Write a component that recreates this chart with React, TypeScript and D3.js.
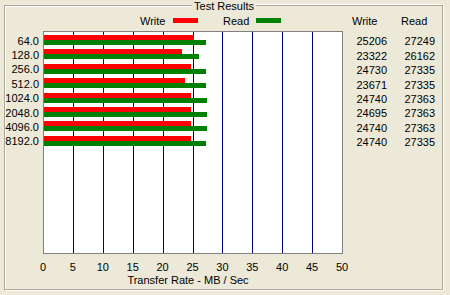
import React from "react";
import * as d3 from "d3";

const blockSizes = ["64.0", "128.0", "256.0", "512.0", "1024.0", "2048.0", "4096.0", "8192.0"];
const writeKB = [25206, 23322, 24730, 23671, 24740, 24695, 24740, 24740];
const readKB = [27249, 26162, 27335, 27335, 27363, 27363, 27363, 27335];
const xTicks = [0, 5, 10, 15, 20, 25, 30, 35, 40, 45, 50];

const W = 450, H = 295;
const plot = { left: 43, top: 31, right: 342, bottom: 253 };
const FONT = "'Liberation Sans', Arial, sans-serif";
const BG = "#ECE9D8";
const RED = "#FF0000";
const GREEN = "#008000";

export default function App() {
  const x = d3.scaleLinear().domain([0, 50]).range([plot.left, plot.right]);
  const y = d3.scaleBand<string>().domain(blockSizes).range([35, 35 + 8 * 14.4]).paddingInner(0).paddingOuter(0);
  const barH = 5;

  return (
    <svg width={W} height={H} style={{ position: "absolute", left: 0, top: 0 }} fontFamily={FONT} fontSize={11}>
      <rect x={0} y={0} width={W} height={H} fill={BG} />
      {/* group box */}
      <g fill="none" shapeRendering="crispEdges">
        <path d={`M191.5,5.5 H4.5 V289.5 H442.5 V5.5 H255.5`} stroke="#ACA899" />
        <path d={`M191.5,6.5 H5.5 V288.5 M5.5,290.5 H443.5 V5.5 M443.5,4.5 H255.5`} stroke="#FFFFFF" />
      </g>
      <text x={224} y={10} textAnchor="middle" fill="#000">Test Results</text>

      {/* legend */}
      <text x={140} y={25} fill="#000">Write</text>
      <rect x={173} y={18} width={25} height={5} fill={RED} />
      <text x={223} y={25} fill="#000">Read</text>
      <rect x={256} y={18} width={25} height={5} fill={GREEN} />

      {/* plot area */}
      <rect x={plot.left} y={plot.top} width={plot.right - plot.left} height={plot.bottom - plot.top} fill="#FFFFFF" />
      <g shapeRendering="crispEdges">
        {xTicks.slice(1, -1).map((t) => (
          <line key={t} x1={Math.round(x(t)) + 0.5} x2={Math.round(x(t)) + 0.5} y1={plot.top} y2={plot.bottom} stroke="#000080" />
        ))}
        {blockSizes.map((c, i) => (
          <g key={c}>
            <rect x={x(0)} y={y(c)!} width={x(writeKB[i] / 1000) - x(0)} height={barH} fill={RED} />
            <rect x={x(0)} y={y(c)! + barH} width={x(readKB[i] / 1000) - x(0)} height={barH} fill={GREEN} />
          </g>
        ))}
        <rect x={plot.left + 0.5} y={plot.top + 0.5} width={plot.right - plot.left} height={plot.bottom - plot.top} fill="none" stroke="#808080" />
      </g>

      {/* y labels */}
      {blockSizes.map((c) => (
        <text key={c} x={39} y={y(c)! + 9.5} textAnchor="end" fill="#000">{c}</text>
      ))}

      {/* x tick labels */}
      {xTicks.map((t) => (
        <text key={t} x={x(t)} y={271} textAnchor="middle" fill="#000">{t}</text>
      ))}
      <text x={188} y={284} textAnchor="middle" fill="#000">Transfer Rate - MB / Sec</text>

      {/* table */}
      <text x={352} y={25} fill="#000">Write</text>
      <text x={401} y={25} fill="#000">Read</text>
      {blockSizes.map((c, i) => (
        <g key={c}>
          <text x={387} y={y(c)! + 10.3} textAnchor="end" fill="#000">{writeKB[i]}</text>
          <text x={435} y={y(c)! + 10.3} textAnchor="end" fill="#000">{readKB[i]}</text>
        </g>
      ))}
    </svg>
  );
}
